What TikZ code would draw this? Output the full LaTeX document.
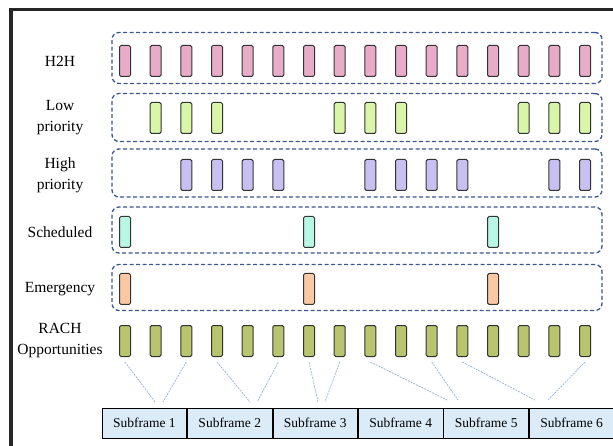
\documentclass[tikz,border=0pt]{standalone}
\usepackage{fontspec}
\setmainfont{Liberation Serif}
\usetikzlibrary{positioning}
\definecolor{h2hpink}{RGB}{232,172,200}
\definecolor{lowgreen}{RGB}{216,245,168}
\definecolor{highviolet}{RGB}{200,192,240}
\definecolor{schedaqua}{RGB}{184,245,226}
\definecolor{emergpeach}{RGB}{250,200,165}
\definecolor{racholive}{RGB}{184,196,110}
\definecolor{bandblue}{RGB}{60,85,150}
\definecolor{sfblue}{RGB}{220,235,248}
\definecolor{linkblue}{RGB}{150,175,225}

\begin{document}
\begin{tikzpicture}[x=1pt,y=-1pt]
		\useasboundingbox (0,0) rectangle (613,446);
		\tikzstyle{band}=[draw=bandblue,dash pattern=on 4pt off 2.5pt,line width=1.3pt,rounded corners=7pt,minimum width=490pt,minimum height=48pt]
		\tikzstyle{slot}=[draw=black!80,line width=1pt,rounded corners=1.5pt,minimum width=11pt,minimum height=31pt,inner sep=0pt]
		\tikzstyle{rowlabel}=[align=center,font=\fontsize{15.5}{21}\selectfont]
		\tikzstyle{subframe}=[draw,line width=0.8pt,fill=sfblue,minimum width=84.67pt,minimum height=30pt,inner sep=0pt,font=\fontsize{13.5}{15}\selectfont]
		\tikzstyle{link}=[draw=linkblue,line width=0.7pt,dash pattern=on 2pt off 1pt]
		\draw[line width=3.2pt,draw=black!85] (11,450)--(11,9.5)--(615,9.5);
		% rows
		\node[rowlabel] (lH2H) at (60,61){H2H};
		\node[band,minimum height=51pt] (bH2H) at (357,58){};
		\foreach \i in {0,...,15} \node[slot,fill=h2hpink] (h\i) at (125+30.67*\i,61){};
		\node[rowlabel] (lLow) at (60,118){Low\\priority};
		\node[band] (bLow) at (357,117.5){};
		\foreach \i in {1,2,3,7,8,9,13,14,15} \node[slot,fill=lowgreen] (l\i) at (125+30.67*\i,118){};
		\node[rowlabel] (lHigh) at (60,175){High\\priority};
		\node[band] (bHigh) at (357,173){};
		\foreach \i in {2,3,4,5,8,9,10,11,14,15} \node[slot,fill=highviolet] (p\i) at (125+30.67*\i,175){};
		\node[rowlabel] (lSched) at (60,232){Scheduled};
		\node[band,minimum height=46pt] (bSched) at (357,230){};
		\foreach \i in {0,6,12} \node[slot,fill=schedaqua] (s\i) at (125+30.67*\i,232){};
		\node[rowlabel] (lEmerg) at (60,289){Emergency};
		\node[band,minimum height=46pt] (bEmerg) at (357,287.5){};
		\foreach \i in {0,6,12} \node[slot,fill=emergpeach] (e\i) at (125+30.67*\i,289){};
		\node[rowlabel] (lRACH) at (60,341){RACH\\Opportunities};
		\foreach \i in {0,...,15} \node[slot,fill=racholive] (r\i) at (125+30.67*\i,341){};
		% subframes
		\node[subframe] (sf1) at (144.33,423){Subframe 1};
		\node[subframe,right=0pt of sf1] (sf2){Subframe 2};
		\node[subframe,right=0pt of sf2] (sf3){Subframe 3};
		\node[subframe,right=0pt of sf3] (sf4){Subframe 4};
		\node[subframe,right=0pt of sf4] (sf5){Subframe 5};
		\node[subframe,right=0pt of sf5] (sf6){Subframe 6};
		\coordinate (m1a) at (155,402);
		\coordinate (m1b) at (163,402);
		\coordinate (m2a) at (250,402);
		\coordinate (m2b) at (257,402);
		\coordinate (m3a) at (318,402);
		\coordinate (m3b) at (325,402);
		\coordinate (m4a) at (447,400);
		\coordinate (m4b) at (458,400);
		\coordinate (m5a) at (535,400);
		\coordinate (m5b) at (548,400);

		\draw[link] ([yshift=-5pt]r0.south)--(m1a);
		\draw[link] ([yshift=-5pt]r2.south)--(m1b);
		\draw[link] ([yshift=-5pt]r3.south)--(m2a);
		\draw[link] ([yshift=-5pt]r5.south)--(m2b);
		\draw[link] ([yshift=-5pt]r6.south)--(m3a);
		\draw[link] ([yshift=-5pt]r7.south)--(m3b);
		\draw[link] ([yshift=-5pt]r8.south)--(m4a);
		\draw[link] ([yshift=-5pt]r10.south)--(m4b);
		\draw[link] ([yshift=-5pt]r11.south)--(m5a);
		\draw[link] ([yshift=-5pt]r15.south)--(m5b);
	\end{tikzpicture}
\end{document}
